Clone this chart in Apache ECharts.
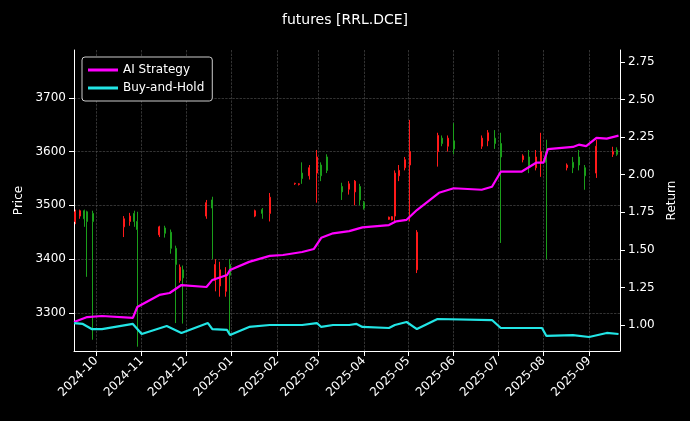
<!DOCTYPE html>
<html>
<head>
<meta charset="UTF-8">
<title>futures [RRL.DCE]</title>
<style>html,body{margin:0;padding:0;background:#000;}</style>
</head>
<body>
<div id="chart" style="width:690px;height:421px;"></div>
<script src="https://cdn.jsdelivr.net/npm/echarts@6/dist/echarts.min.js"></script>
<script>
// candles: [date, open, close, low, high]
var candles = [
  ['2024-09-17', 3470, 3488, 3465, 3492], ['2024-09-20', 3480, 3490, 3475, 3492],
  ['2024-09-23', 3490, 3475, 3460, 3492], ['2024-09-25', 3488, 3470, 3367, 3490],
  ['2024-09-29', 3485, 3470, 3250, 3490],
  ['2024-10-20', 3460, 3475, 3441, 3480], ['2024-10-24', 3470, 3480, 3462, 3486],
  ['2024-10-27', 3485, 3470, 3460, 3490], ['2024-10-29', 3470, 3455, 3237, 3488],
  ['2024-11-13', 3445, 3460, 3441, 3462], ['2024-11-17', 3458, 3448, 3440, 3462],
  ['2024-11-21', 3450, 3420, 3410, 3455], ['2024-11-24', 3420, 3390, 3281, 3425],
  ['2024-11-27', 3360, 3385, 3356, 3390], ['2024-11-29', 3380, 3365, 3280, 3388],
  ['2024-12-15', 3480, 3505, 3475, 3510], ['2024-12-19', 3510, 3495, 3400, 3516],
  ['2024-12-21', 3360, 3390, 3340, 3400], ['2024-12-24', 3350, 3380, 3330, 3395],
  ['2024-12-28', 3340, 3370, 3330, 3385], ['2024-12-31', 3390, 3370, 3263, 3400],
  ['2025-01-17', 3480, 3490, 3478, 3492], ['2025-01-22', 3492, 3485, 3475, 3495],
  ['2025-01-27', 3485, 3515, 3470, 3523],
  ['2025-02-13', 3540, 3541, 3538, 3542], ['2025-02-16', 3539, 3540, 3537, 3541],
  ['2025-02-18', 3560, 3550, 3540, 3580], ['2025-02-23', 3555, 3570, 3548, 3575],
  ['2025-02-28', 3560, 3590, 3505, 3603], ['2025-03-03', 3575, 3555, 3545, 3580],
  ['2025-03-07', 3590, 3565, 3560, 3595], ['2025-03-17', 3535, 3525, 3510, 3542],
  ['2025-03-22', 3530, 3540, 3520, 3545], ['2025-03-26', 3525, 3545, 3500, 3547],
  ['2025-03-29', 3535, 3510, 3500, 3540], ['2025-04-01', 3505, 3495, 3492, 3508],
  ['2025-04-18', 3474, 3478, 3473, 3479], ['2025-04-20', 3473, 3479, 3472, 3480],
  ['2025-04-22', 3480, 3560, 3467, 3565], ['2025-04-25', 3555, 3565, 3545, 3575],
  ['2025-04-29', 3570, 3585, 3565, 3590], ['2025-05-02', 3575, 3600, 3470, 3659],
  ['2025-05-07', 3380, 3450, 3374, 3454],
  ['2025-05-21', 3600, 3630, 3572, 3635], ['2025-05-24', 3625, 3615, 3610, 3630],
  ['2025-05-28', 3610, 3625, 3600, 3630], ['2025-06-01', 3620, 3605, 3595, 3653],
  ['2025-06-20', 3610, 3625, 3605, 3630], ['2025-06-24', 3620, 3635, 3610, 3640],
  ['2025-06-29', 3625, 3615, 3605, 3640], ['2025-07-03', 3615, 3590, 3430, 3635],
  ['2025-07-18', 3585, 3592, 3580, 3595], ['2025-07-22', 3590, 3570, 3560, 3603],
  ['2025-07-27', 3570, 3590, 3565, 3603], ['2025-07-30', 3580, 3600, 3553, 3635],
  ['2025-08-03', 3600, 3580, 3400, 3622],
  ['2025-08-17', 3570, 3575, 3565, 3578], ['2025-08-21', 3580, 3570, 3560, 3590],
  ['2025-08-25', 3590, 3575, 3565, 3603], ['2025-08-29', 3570, 3555, 3529, 3575],
  ['2025-09-06', 3560, 3610, 3551, 3622],
  ['2025-09-17', 3595, 3600, 3590, 3609], ['2025-09-20', 3603, 3595, 3592, 3608]
];
var strategy = [
  ['2024-09-16', 1.02], ['2024-09-25', 1.053], ['2024-10-05', 1.06], ['2024-10-26', 1.047],
  ['2024-10-29', 1.12], ['2024-11-13', 1.20], ['2024-11-20', 1.213], ['2024-11-28', 1.266],
  ['2024-12-15', 1.253], ['2024-12-19', 1.30], ['2024-12-29', 1.333], ['2024-12-31', 1.366],
  ['2025-01-13', 1.42], ['2025-01-27', 1.46], ['2025-02-05', 1.466], ['2025-02-18', 1.486],
  ['2025-02-26', 1.506], ['2025-03-03', 1.58], ['2025-03-11', 1.61], ['2025-03-22', 1.625],
  ['2025-03-31', 1.65], ['2025-04-18', 1.665], ['2025-04-23', 1.69], ['2025-04-30', 1.70],
  ['2025-05-07', 1.765], ['2025-05-22', 1.88], ['2025-06-01', 1.91], ['2025-06-20', 1.90],
  ['2025-06-27', 1.92], ['2025-07-03', 2.02], ['2025-07-17', 2.02], ['2025-07-27', 2.08],
  ['2025-08-01', 2.08], ['2025-08-04', 2.17], ['2025-08-21', 2.185], ['2025-08-25', 2.20],
  ['2025-08-30', 2.19], ['2025-09-06', 2.245], ['2025-09-13', 2.24], ['2025-09-21', 2.26]
];
var hold = [
  ['2024-09-16', 1.013], ['2024-09-22', 1.007], ['2024-09-28', 0.973], ['2024-10-05', 0.973],
  ['2024-10-26', 1.007], ['2024-11-01', 0.94], ['2024-11-18', 0.993], ['2024-11-28', 0.947],
  ['2024-12-16', 1.013], ['2024-12-19', 0.973], ['2024-12-29', 0.967], ['2024-12-31', 0.933],
  ['2025-01-13', 0.987], ['2025-01-27', 1.0], ['2025-02-18', 1.0], ['2025-02-28', 1.013],
  ['2025-03-03', 0.987], ['2025-03-11', 1.0], ['2025-03-22', 1.0], ['2025-03-27', 1.007],
  ['2025-03-31', 0.987], ['2025-04-18', 0.98], ['2025-04-22', 1.0], ['2025-04-30', 1.02],
  ['2025-05-07', 0.973], ['2025-05-21', 1.04], ['2025-06-27', 1.033], ['2025-07-03', 0.98],
  ['2025-07-31', 0.98], ['2025-08-03', 0.927], ['2025-08-21', 0.933], ['2025-09-01', 0.92],
  ['2025-09-13', 0.947], ['2025-09-21', 0.94]
];
var priceTicks = [3300, 3400, 3500, 3600, 3700];
var returnTicks = [1.00, 1.25, 1.50, 1.75, 2.00, 2.25, 2.50, 2.75];

var gridLine = { show: true, lineStyle: { color: '#555', type: 'dashed', width: 0.6 } };
var chart = echarts.init(document.getElementById('chart'));
chart.setOption({
  backgroundColor: '#000',
  animation: false,
  title: { text: 'futures [RRL.DCE]', left: 'center', top: 8,
    textStyle: { color: '#fff', fontSize: 14, fontWeight: 'normal', fontFamily: 'DejaVu Sans' } },
  legend: {
    left: 82, top: 57, orient: 'vertical', itemGap: 6, itemWidth: 30, itemHeight: 3,
    padding: [7, 8, 7, 6], backgroundColor: '#000', borderColor: '#ccc', borderWidth: 1, borderRadius: 3,
    textStyle: { color: '#fff', fontSize: 12, fontFamily: 'DejaVu Sans' },
    data: [{ name: 'AI Strategy', icon: 'rect' }, { name: 'Buy-and-Hold', icon: 'rect' }]
  },
  grid: { left: 74, right: 70, top: 50, bottom: 70 },
  xAxis: {
    type: 'time', min: '2024-09-16', max: '2025-09-22',
    minInterval: 28 * 86400000, maxInterval: 31 * 86400000,
    axisLine: { lineStyle: { color: '#fff' } },
    axisTick: { lineStyle: { color: '#fff' } },
    axisLabel: { color: '#fff', rotate: 45, fontSize: 12, fontFamily: 'DejaVu Sans',
      formatter: function (v) { var d = new Date(v); return d.getFullYear() + '-' + String(d.getMonth() + 1).padStart(2, '0'); } },
    splitLine: gridLine
  },
  yAxis: [{
    type: 'value', name: 'Price', nameLocation: 'middle', nameGap: 48,
    min: 3229, max: 3789,
    nameTextStyle: { color: '#fff', fontSize: 12, fontFamily: 'DejaVu Sans' },
    axisLine: { show: true, lineStyle: { color: '#fff' } },
    axisTick: { show: true, customValues: priceTicks, lineStyle: { color: '#fff' } },
    axisLabel: { color: '#fff', fontSize: 12, fontFamily: 'DejaVu Sans', customValues: priceTicks,
      formatter: function (v) { return String(v); } },
    splitLine: gridLine
  }, {
    type: 'value', name: 'Return', nameLocation: 'middle', nameGap: 42,
    min: 0.827, max: 2.83,
    nameTextStyle: { color: '#fff', fontSize: 12, fontFamily: 'DejaVu Sans' },
    axisLine: { show: true, lineStyle: { color: '#fff' } },
    axisTick: { show: true, customValues: returnTicks, lineStyle: { color: '#fff' } },
    axisLabel: { color: '#fff', fontSize: 12, fontFamily: 'DejaVu Sans', customValues: returnTicks,
      formatter: function (v) { return v.toFixed(2); } },
    splitLine: { show: false }
  }],
  series: [{
    type: 'candlestick', name: 'Price', yAxisIndex: 0, barWidth: 1.5,
    data: candles,
    itemStyle: { color: '#ff1a1a', color0: '#1a9e1a', borderColor: '#ff1a1a', borderColor0: '#1a9e1a', borderWidth: 1 }
  }, {
    type: 'line', name: 'AI Strategy', yAxisIndex: 1, data: strategy, showSymbol: false,
    lineStyle: { color: '#ff00ff', width: 2.2 }, itemStyle: { color: '#ff00ff' }
  }, {
    type: 'line', name: 'Buy-and-Hold', yAxisIndex: 1, data: hold, showSymbol: false,
    lineStyle: { color: '#22e5e5', width: 2.2 }, itemStyle: { color: '#22e5e5' }
  }]
});
</script>
</body>
</html>
